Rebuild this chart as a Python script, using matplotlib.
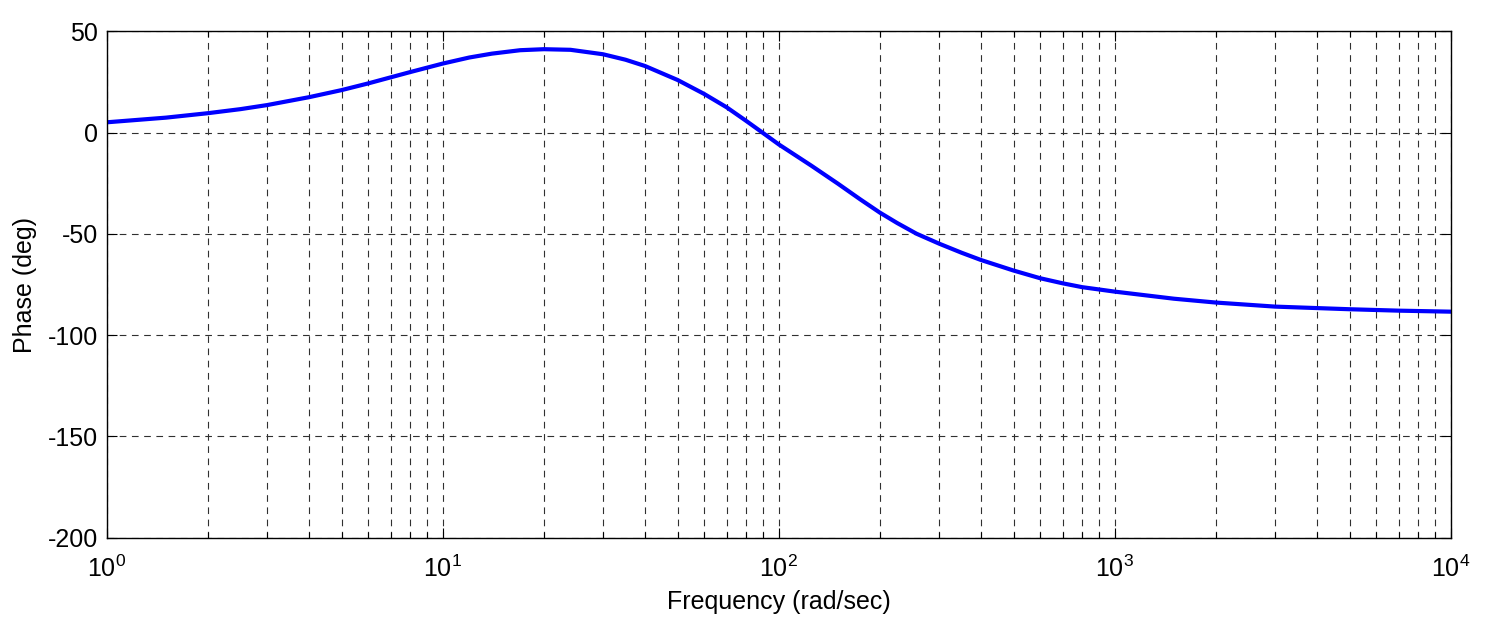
import matplotlib
matplotlib.use("Agg")
import matplotlib.pyplot as plt

plt.rcParams['font.family'] = ['Liberation Sans', 'DejaVu Sans']
plt.rcParams['mathtext.fontset'] = 'custom'
plt.rcParams['mathtext.rm'] = 'Liberation Sans'
plt.rcParams['mathtext.it'] = 'Liberation Sans'
plt.rcParams['axes.unicode_minus'] = False

# Phase curve (rad/sec, deg)
freq = [1, 1.5, 2, 2.5, 3, 4, 5, 6, 7, 8, 10, 12, 14, 17, 20, 24, 30, 35,
        40, 50, 60, 70, 80, 90, 100, 125, 150, 175, 200, 225, 257, 300, 350,
        400, 500, 600, 700, 800, 1000, 1500, 2000, 3000, 5000, 7000, 10000]
phase = [5.1, 7.4, 9.6, 11.6, 13.6, 17.5, 21.0, 24.3, 27.3, 29.9, 34.1, 37.1,
         39.0, 40.7, 41.2, 40.9, 38.7, 36.0, 32.9, 26.0, 19.1, 12.5, 5.8, -0.3,
         -5.8, -16.3, -25.2, -33.0, -39.5, -44.6, -49.9, -54.8, -59.3,
         -62.9, -68.1, -71.9, -74.4, -76.3, -78.5, -82.0, -83.9, -85.9, -87.2,
         -87.9, -88.4]

y_ticks = [-200, -150, -100, -50, 0, 50]

fig = plt.figure(figsize=(14.86, 6.25), dpi=100)
ax = fig.add_axes([0.0718, 0.1397, 0.9045, 0.8101])

ax.semilogx(freq, phase, color='#0000ff', linewidth=3)

ax.set_xlim(1, 1e4)
ax.set_ylim(-200, 50)
ax.set_yticks(y_ticks)

grid_style = dict(color='#303030', linestyle=(0, (6, 5)), linewidth=0.8)
ax.grid(True, which='major', axis='both', **grid_style)
ax.grid(True, which='minor', axis='x', **grid_style)

ax.tick_params(which='both', direction='in', top=True, right=True,
               labelsize=18, width=0.8)
ax.tick_params(which='major', length=7)
ax.tick_params(which='minor', length=4)
ax.tick_params(axis='x', pad=13)
ax.tick_params(axis='y', pad=6)
for s in ax.spines.values():
    s.set_linewidth(1.0)

ax.set_xlabel('Frequency (rad/sec)', fontsize=18, labelpad=6)
ax.set_ylabel('Phase (deg)', fontsize=18, labelpad=8)

fig.savefig('out.png', dpi=100)
